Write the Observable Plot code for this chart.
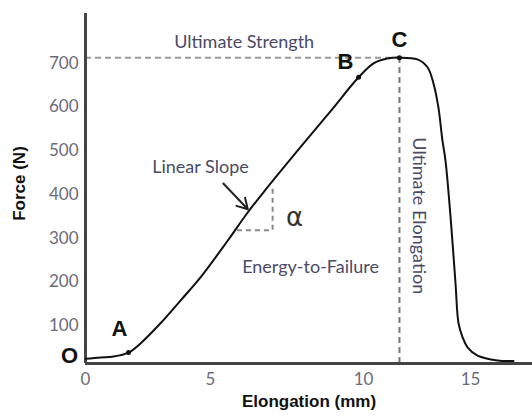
<!DOCTYPE html>
<html><head><meta charset="utf-8">
<script src="https://cdn.jsdelivr.net/npm/d3@7"></script>
<script src="https://cdn.jsdelivr.net/npm/@observablehq/plot@0.6"></script>
<style>body{margin:0;background:#fff}</style>
</head><body><div id="chart"></div>
<script>
// Force–elongation curve
const elongation = [0, 0.6, 1.12, 1.72, 2.2, 3.0, 3.8, 4.6, 5.56, 6.21, 6.70, 7.94, 8.92, 9.84, 10.47, 11.12, 11.68, 12.52, 12.99, 13.27, 13.50, 13.69, 13.83, 14.07, 14.30, 14.44, 14.63, 14.86, 15.33, 16.26, 17.01];
const force = [24, 27, 29, 38, 59, 105, 157, 210, 294, 358, 402, 508, 590, 668, 700, 711, 713, 709, 691, 654, 599, 523, 478, 347, 196, 105, 73, 50, 31, 20, 19];

const xTicks = [0, 5, 10, 15];
const yTicks = [100, 200, 300, 400, 500, 600, 700];
const xLabel = "Elongation (mm)";
const yLabel = "Force (N)";

// key points
const pointNames = ["O", "A", "B", "C"];
const pointNameX = [-0.64, 1.36, 9.41, 11.68];
const pointNameY = [31, 93, 702, 753];
const markerX = [1.72, 9.84, 11.68];
const markerY = [38, 668, 713];

// annotations
const ultimateStrength = 713;
const ultimateElongation = 11.68;
const noteText = ["Ultimate Strength", "Linear Slope", "Energy-to-Failure"];
const noteX = [6.1, 4.6, 8.27];
const noteY = [748, 462, 233];
const verticalNote = "Ultimate Elongation";
const verticalNoteX = 12.56;
const verticalNoteY = 351;
const slopeX = [5.88, 7.03];   // slope triangle: horizontal leg from, to
const slopeY = [318, 421];     // vertical leg from, to
const arrowFrom = [5.42, 425];
const arrowTo = [6.22, 366];
const alphaSymbol = "α";
const alphaX = 7.75, alphaY = 347;

const curve = elongation.map((e, i) => ({e, f: force[i]}));
const names = pointNames.map((n, i) => ({n, x: pointNameX[i], y: pointNameY[i]}));
const markers = markerX.map((x, i) => ({x, y: markerY[i]}));
const notes = noteText.map((t, i) => ({t, x: noteX[i], y: noteY[i]}));

const textColor = "#4a4a66";
const dashColor = "#8a8a8a";

const chart = Plot.plot({
  width: 532,
  height: 417,
  marginTop: 13,
  marginBottom: 54,
  marginLeft: 85,
  marginRight: 0,
  style: {fontFamily: "Lato", fontSize: "17px", background: "#fff", overflow: "visible"},
  x: {type: "linear", domain: [0, 5, 10, 15, 17.9], range: [85, 210, 363, 470, 532]},
  y: {domain: [13, 814]},
  marks: [
    Plot.axisX({ticks: xTicks, tickSize: 0, tickPadding: 9, label: null, fill: "#6b6b7b", fontSize: 17, fontFamily: "Lato"}),
    Plot.axisY({ticks: yTicks, tickSize: 0, tickPadding: 7, label: null, fill: "#6b6b7b", fontSize: 17, fontFamily: "Lato"}),
    // dashed guides
    Plot.ruleY([ultimateStrength], {x1: 0, x2: ultimateElongation, stroke: "#999", strokeWidth: 2, strokeDasharray: "6,4"}),
    Plot.ruleX([ultimateElongation], {y1: 13, y2: ultimateStrength, stroke: "#777", strokeWidth: 2, strokeDasharray: "6,4"}),
    Plot.ruleY([slopeY[0]], {x1: slopeX[0], x2: slopeX[1], stroke: dashColor, strokeWidth: 2, strokeDasharray: "5,4"}),
    Plot.ruleX([slopeX[1]], {y1: slopeY[0], y2: slopeY[1], stroke: dashColor, strokeWidth: 2, strokeDasharray: "5,4"}),
    // axis lines
    Plot.ruleX([0], {stroke: "#444", strokeWidth: 3}),
    Plot.ruleY([13], {stroke: "#444", strokeWidth: 3}),
    // curve
    Plot.line(curve, {x: "e", y: "f", curve: "catmull-rom", stroke: "#111", strokeWidth: 2}),
    Plot.dot(markers, {x: "x", y: "y", r: 2.5, fill: "#111"}),
    Plot.arrow([0], {x1: arrowFrom[0], y1: arrowFrom[1], x2: arrowTo[0], y2: arrowTo[1], stroke: "#222", strokeWidth: 2, headLength: 9}),
    // labels
    Plot.text(names, {x: "x", y: "y", text: "n", fontFamily: "Liberation Sans", fontWeight: "bold", fontSize: 22, fill: "#111"}),
    Plot.text(notes, {x: "x", y: "y", text: "t", fontFamily: "Lato", fontSize: 18, fill: textColor}),
    Plot.text([verticalNote], {x: verticalNoteX, y: verticalNoteY, rotate: 90, fontFamily: "Lato", fontSize: 18, fill: textColor}),
    Plot.text([alphaSymbol], {x: alphaX, y: alphaY, fontFamily: "DejaVu Sans", fontSize: 26, fill: "#333"}),
    Plot.text([xLabel], {frameAnchor: "bottom", dy: 43, fontFamily: "Liberation Sans", fontWeight: "bold", fontSize: 17, fill: "#111"}),
    Plot.text([yLabel], {frameAnchor: "left", textAnchor: "middle", dx: -66, dy: -5, rotate: -90, fontFamily: "Liberation Sans", fontWeight: "bold", fontSize: 17, fill: "#111"})
  ]
});
document.getElementById("chart").appendChild(chart);
</script>
</body></html>
